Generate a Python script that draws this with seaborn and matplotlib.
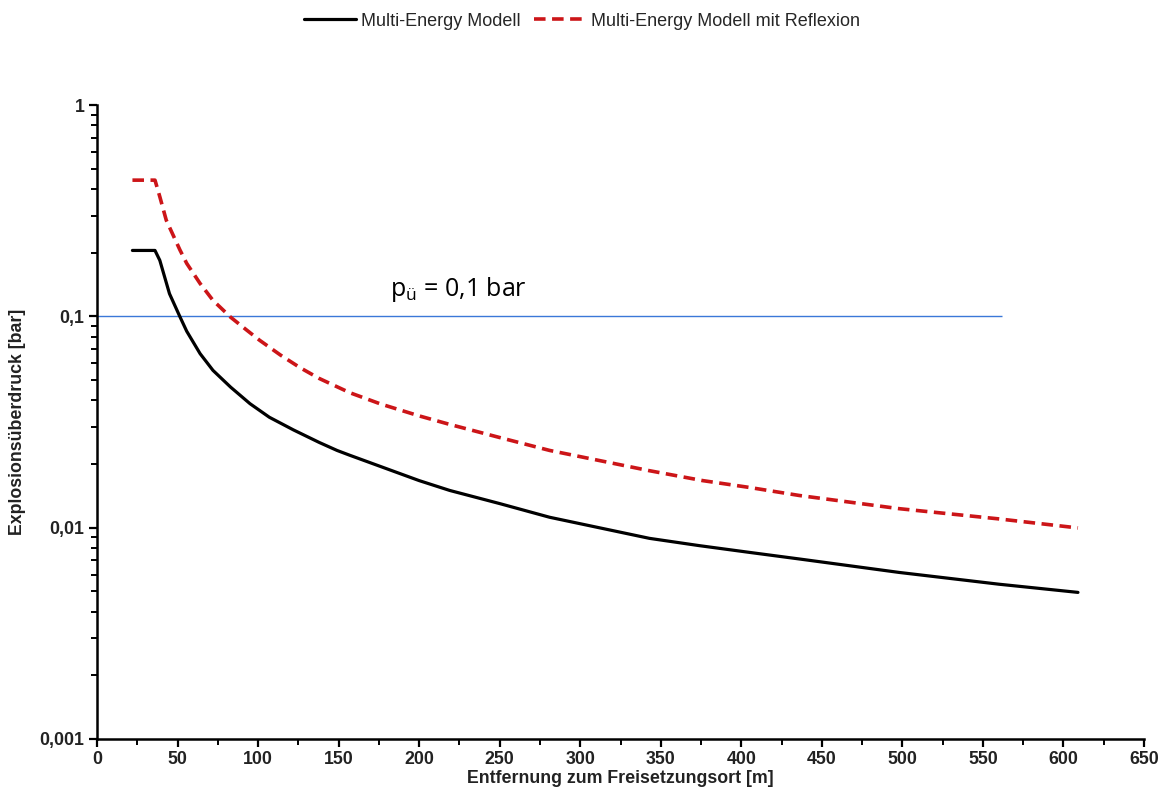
import numpy as np
import pandas as pd
import matplotlib
matplotlib.use("Agg")
import matplotlib.pyplot as plt
import matplotlib.ticker as mticker
import seaborn as sns

# ---- data ----
dist_me = [22, 36, 39, 45, 51.5, 55.7, 64, 72, 83, 95, 107, 122, 138, 149, 157, 200,
           219, 250, 281, 343, 374, 405, 436, 498, 560, 609]
p_me = [0.205, 0.205, 0.184, 0.128, 0.0995, 0.085, 0.0666, 0.0555, 0.0462, 0.0386,
        0.0333, 0.029, 0.0253, 0.0232, 0.0220, 0.0167, 0.0150, 0.0130, 0.0112, 0.0089,
        0.00822, 0.00764, 0.00711, 0.00614, 0.0054, 0.00494]

dist_ref = [22, 36, 39, 43, 51.5, 55.7, 64, 72, 83, 93, 101, 114, 126, 138, 157, 176,
            200, 219, 250, 281, 343, 376, 405, 436, 498, 560, 609]
p_ref = [0.441, 0.441, 0.368, 0.285, 0.206, 0.178, 0.143, 0.119, 0.099, 0.086, 0.077,
         0.0655, 0.0572, 0.0508, 0.0435, 0.0385, 0.0338, 0.0308, 0.0267, 0.0232, 0.0186,
         0.0167, 0.0155, 0.0142, 0.0123, 0.011, 0.00997]

series_names = ["Multi-Energy Modell", "Multi-Energy Modell mit Reflexion"]
threshold = 0.1
threshold_end = 562
x_ticks = list(range(0, 651, 50))
y_ticks = [0.001, 0.01, 0.1, 1]
y_ticklabels = ["0,001", "0,01", "0,1", "1"]
annotation = "p$_{\\mathregular{ü}}$ = 0,1 bar"

df_me = pd.DataFrame({"dist": dist_me, "p": p_me})
df_ref = pd.DataFrame({"dist": dist_ref, "p": p_ref})

sns.set_style("ticks")
plt.rcParams["font.family"] = ["Liberation Sans", "DejaVu Sans"]

fig = plt.figure(figsize=(11.67, 7.96), dpi=100)
ax = fig.add_axes([97 / 1167, 1 - 739 / 796, (1144 - 97) / 1167, (739 - 105) / 796])

ax.hlines(threshold, 0, threshold_end, color="#3b78d8", lw=1.0, zorder=1)

sns.lineplot(data=df_me, x="dist", y="p", ax=ax, color="black", lw=2.3,
             label=series_names[0], zorder=3)
sns.lineplot(data=df_ref, x="dist", y="p", ax=ax, color="#cc1518", lw=2.6,
             label=series_names[1], zorder=3)
ax.lines[-1].set_dashes((3.2, 1.8))

ax.set_yscale("log")
ax.set_xlim(0, 650)
ax.set_ylim(0.001, 1)
ax.set_xticks(x_ticks)
ax.set_xticklabels([str(t) for t in x_ticks])
ax.xaxis.set_minor_locator(mticker.MultipleLocator(25))
ax.set_yticks(y_ticks)
ax.set_yticklabels(y_ticklabels)
ax.yaxis.set_minor_locator(mticker.LogLocator(base=10, subs=np.arange(2, 10)))
ax.yaxis.set_minor_formatter(mticker.NullFormatter())

for sp in ["top", "right"]:
    ax.spines[sp].set_visible(False)
for sp in ["left", "bottom"]:
    ax.spines[sp].set_linewidth(1.8)
    ax.spines[sp].set_color("black")

ax.tick_params(axis="both", which="major", direction="out", length=6, width=1.6,
               labelsize=12.8, colors="black", pad=3)
ax.tick_params(axis="both", which="minor", direction="out", length=4, width=1.4, colors="black")
for lab in ax.get_xticklabels() + ax.get_yticklabels():
    lab.set_fontweight("bold")
    lab.set_color("#222222")

ax.set_xlabel("Entfernung zum Freisetzungsort [m]", fontsize=12.8, fontweight="bold",
              color="#222222", labelpad=1)
ax.set_ylabel("Explosionsüberdruck [bar]", fontsize=12.8, fontweight="bold",
              color="#222222", labelpad=10)

ax.text(182, 0.115, annotation, fontsize=18, family=["Open Sans", "DejaVu Sans"],
        color="black", ha="left", va="bottom")

handles, labels = ax.get_legend_handles_labels()
ax.get_legend().remove()
fig.legend(handles, labels, loc="upper center", bbox_to_anchor=(0.499, 1.0), ncol=2,
           frameon=False, fontsize=13, handlelength=2.85, columnspacing=0.75,
           handletextpad=0.3, borderaxespad=0.3)

fig.savefig("out.png", dpi=100, facecolor="white")
